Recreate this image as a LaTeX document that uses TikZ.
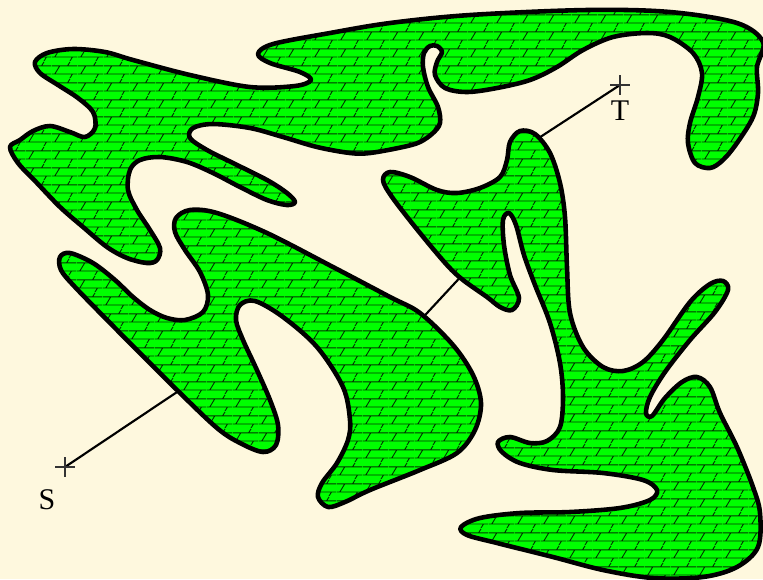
\documentclass[tikz,border=0pt]{standalone}
\usepackage{fontspec}
\setmainfont{Liberation Serif}
\usetikzlibrary{patterns}
\definecolor{bgcream}{RGB}{254,248,222}
\definecolor{blobgreen}{RGB}{0,255,0}
\pgfdeclarepatternformonly{brickz}{\pgfqpoint{0pt}{0pt}}{\pgfqpoint{9pt}{5.8pt}}{\pgfqpoint{9pt}{5.8pt}}{%
  \pgfsetlinewidth{0.32pt}%
  \pgfpathmoveto{\pgfqpoint{0pt}{1.45pt}}\pgfpathlineto{\pgfqpoint{9pt}{1.45pt}}%
  \pgfpathmoveto{\pgfqpoint{0pt}{4.35pt}}\pgfpathlineto{\pgfqpoint{9pt}{4.35pt}}%
  \pgfpathmoveto{\pgfqpoint{1pt}{1.45pt}}\pgfpathlineto{\pgfqpoint{2.75pt}{4.35pt}}%
  \pgfpathmoveto{\pgfqpoint{5.5pt}{4.35pt}}\pgfpathlineto{\pgfqpoint{6.375pt}{5.8pt}}%
  \pgfpathmoveto{\pgfqpoint{6.375pt}{0pt}}\pgfpathlineto{\pgfqpoint{7.25pt}{1.45pt}}%
  \pgfusepath{stroke}}
\begin{document}
\begin{tikzpicture}[x=0.35pt,y=-0.35pt,
  blob/.style={draw=black, line width=1.6pt, line join=round,
    preaction={fill=blobgreen}, pattern=brickz, pattern color=black!80!green},
  link/.style={line width=0.75pt},
  crossmark/.style={line width=0.4pt, black!80},
  lbl/.style={font=\fontsize{10.5}{12}\selectfont, inner sep=0pt}]
\fill[bgcream] (0,0) rectangle (763,579);
\useasboundingbox (0,0) rectangle (763,579);

\coordinate (S) at (65,467);
\coordinate (T) at (620,85);
\coordinate (s1) at (192,382);
\coordinate (m1) at (415,326);
\coordinate (m2) at (467,270);
\coordinate (t1) at (528,145);

% connectors (drawn below the shapes)
\draw[link] (S) -- (s1);
\draw[link] (m1) -- (m2);
\draw[link] (t1) -- (T);

% crosses
\draw[crossmark] (S) ++(-10,0) -- ++(20,0) (S) ++(0,-10) -- ++(0,20);
\draw[crossmark] (T) ++(-10,0) -- ++(20,0) (T) ++(0,-10) -- ++(0,20);

\node[lbl] (Slab) at (47,500) {S};
\node[lbl] (Tlab) at (620,111) {T};

% shape A (top)
\draw[blob] plot[smooth cycle, tension=0.55] coordinates {
(10,147) (20,140) (33,131) (50,126) (70,132) (85,137) (95,128) (93,112) (78,98)
(58,85) (40,73) (35,62) (47,53) (73,49) (105,52) (133,60) (190,75) (250,87)
(295,86) (311,80) (300,72) (270,63) (258,54) (273,44) (330,33) (390,23) (470,15)
(587,10) (670,12) (737,23) (763,42) (757,67) (758,93) (753,117) (737,143)
(723,160) (710,168) (695,163) (688,143) (690,123) (698,97) (702,73) (693,53)
(670,37) (647,33) (613,37) (583,50) (557,67) (530,80) (497,88) (467,92)
(445,88) (435,75) (437,62) (442,52) (437,46) (430,46) (424,53) (423,67)
(428,87) (438,107) (440,123) (433,133) (420,142) (403,147) (370,153)
(350,153) (317,147) (283,137) (250,128) (213,124) (193,128) (190,138)
(207,150) (233,163) (267,180) (287,193) (295,202) (287,205) (267,200)
(240,187) (213,173) (187,162) (160,157) (140,160) (130,170) (128,190)
(137,210) (150,230) (160,248) (157,260) (147,263) (127,258) (107,247)
(83,227) (60,207) (37,183) (18,163)};

% shape B (middle)
\draw[blob] plot[smooth cycle, tension=0.55] coordinates {
(60,257) (70,253) (93,263) (115,280) (133,297) (150,310) (167,318) (185,320)
(203,312) (208,295) (200,272) (185,250) (175,232) (176,218) (190,210) (217,213)
(267,233) (333,267) (390,297) (420,313) (453,345) (473,375) (481,403) (475,430)
(457,453) (420,470) (370,490) (345,502) (328,507) (318,497) (322,483) (337,463)
(348,440) (350,420) (343,387) (317,347) (283,317) (255,301) (240,305) (236,320)
(243,340) (256,368) (270,400) (278,425) (276,445) (263,452) (240,443) (217,428)
(177,390) (117,330) (75,287) (61,270)};

% shape C (right)
\draw[blob] plot[smooth cycle, tension=0.55] coordinates {
(383,180) (390,172) (410,177) (437,190) (457,193) (480,188) (500,177) (507,160)
(510,142) (520,131) (535,134) (550,153) (560,183) (565,217) (567,267) (570,313)
(583,347) (603,367) (623,371) (643,362) (663,340) (690,302) (710,284) (723,281)
(728,290) (715,312) (690,340) (665,372) (650,397) (646,413) (652,416) (665,398)
(682,382) (697,377) (710,387) (720,413) (737,447) (753,487) (760,513) (758,547)
(737,567) (703,577) (653,578) (603,570) (553,557) (497,543) (467,535) (461,527)
(480,518) (520,513) (570,512) (620,508) (650,500) (657,490) (643,480) (603,473)
(553,470) (520,463) (502,452) (498,442) (510,437) (530,443) (547,441) (560,427)
(563,397) (560,363) (550,323) (535,285) (524,255) (516,225) (509,213) (503,220)
(504,245) (510,275) (519,298) (512,310) (500,307) (487,297) (463,280) (447,265)
(420,233) (392,197)};
\end{tikzpicture}
\end{document}
